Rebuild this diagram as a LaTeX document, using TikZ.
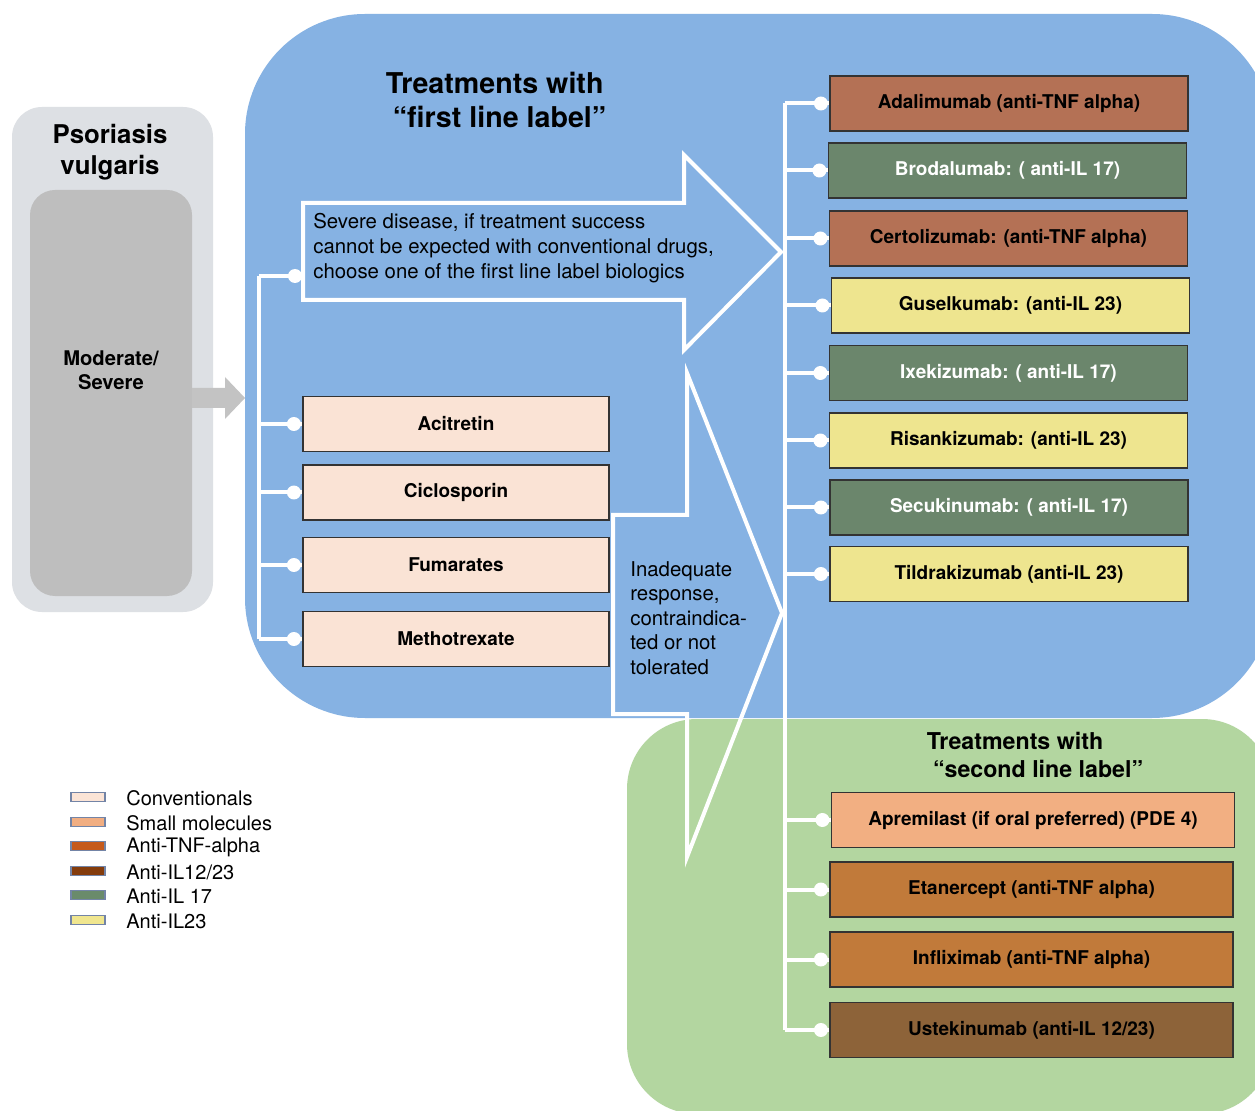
\documentclass[tikz,border=0pt]{standalone}
\usepackage{fontspec}
\setmainfont{TeX Gyre Heros}
\definecolor{bluebg}{HTML}{86B2E3}
\definecolor{greenbg}{HTML}{B3D6A0}
\definecolor{greyout}{HTML}{DDE0E4}
\definecolor{greyin}{HTML}{BEBEBE}
\definecolor{greyarrow}{HTML}{C3C3C3}
\definecolor{convfill}{HTML}{FAE3D5}
\definecolor{tnfA}{HTML}{B47155}
\definecolor{ilseventeen}{HTML}{6B866C}
\definecolor{iltwentythree}{HTML}{EEE58F}
\definecolor{pdefill}{HTML}{F2AF82}
\definecolor{tnfB}{HTML}{C17A3A}
\definecolor{iltwelve}{HTML}{8D6339}
\definecolor{lgconv}{HTML}{FBE4D6}
\definecolor{lgsmall}{HTML}{F1AE82}
\definecolor{lgtnf}{HTML}{C55A1C}
\definecolor{lgiltwelve}{HTML}{843C0C}
\definecolor{lgilseventeen}{HTML}{6A8B6B}
\definecolor{lgiltwentythree}{HTML}{F0E68F}
\definecolor{lgborder}{HTML}{7384A6}
\begin{document}
\begin{tikzpicture}[x=0.02cm,y=-0.02cm,
  drugbox/.style={draw=black!80, line width=0.7pt, minimum width=7.16cm, minimum height=1.1cm,
    inner sep=0pt, font=\bfseries\fontsize{10.8}{13}\selectfont},
  convbox/.style={drugbox, fill=convfill, minimum width=6.12cm},
  secbox/.style={drugbox, minimum width=8.06cm},
  wire/.style={white, line width=0.08cm},
  bigarrow/.style={white, line width=0.08cm, line join=miter},
  knob/.style={white},
  plaintext/.style={inner sep=0pt, align=left, font=\fontsize{11.6}{14.2}\selectfont},
  swatch/.style={draw=lgborder, line width=0.6pt, minimum width=0.68cm, minimum height=0.18cm, inner sep=0pt},
  legendtext/.style={inner sep=0pt, anchor=west, font=\fontsize{11.4}{13}\selectfont}
]
\useasboundingbox (0,0) rectangle (1255,1111);
\fill[white] (0,0) rectangle (1255,1111);

% backgrounds
\begin{scope}
  \clip (0,0) rectangle (1255,1111);
  \fill[bluebg, rounded corners=2.4cm] (245,14) rectangle (1272,718);
  \fill[greenbg, rounded corners=1.4cm] (627,719) rectangle (1272,1114);
\end{scope}

% left grey panel
\fill[greyout, rounded corners=0.6cm] (12,107) rectangle (213,612);
\fill[greyin, rounded corners=0.5cm] (30,190) rectangle (192,596);
\node[inner sep=0pt, align=center, font=\bfseries\fontsize{14.7}{17.6}\selectfont] (psor) at (110,152) {Psoriasis\\vulgaris};
\node[inner sep=0pt, align=center, font=\bfseries\fontsize{11.5}{13.6}\selectfont] (modsev) at (111,370) {Moderate/\\Severe};
\fill[greyarrow] (192,388) -- (225,388) -- (225,377) -- (245,398) -- (225,419) -- (225,408) -- (192,408) -- cycle;

% titles
\node[inner sep=0pt, align=left, font=\bfseries\fontsize{16.3}{19.8}\selectfont] (title1) at (496,100) {Treatments with\\\hspace*{4pt}“first line label”};
\node[inner sep=0pt, align=left, font=\bfseries\fontsize{13.2}{15.9}\selectfont] (title2) at (1035,755) {Treatments with\\\hspace*{3.5pt}“second line label”};

% big arrows
\draw[bigarrow] (303,203) -- (684,203) -- (684,155) -- (781,252) -- (684,350) -- (684,300) -- (303,300) -- cycle;
\node[plaintext, anchor=west] (arrowtext1) at (313,248) {Severe disease, if treatment success\\cannot be expected with conventional drugs,\\choose one of the first line label biologics};
\coordinate (arrowin) at (303,276);

\draw[bigarrow] (687,373) -- (782,613) -- (687,857) -- (687,714) -- (613,714) -- (613,515) -- (687,515) -- cycle;
\node[plaintext, anchor=west, font=\fontsize{11.6}{13.9}\selectfont] (arrowtext2) at (630,618) {Inadequate\\response,\\contraindica-\\ted or not\\tolerated};

% conventional drugs
\node[convbox] (Acitretin) at (456,424) {Acitretin};
\node[convbox] (Ciclosporin) at (456,492.5) {Ciclosporin};
\node[convbox] (Fumarates) at (456,565) {Fumarates};
\node[convbox] (Methotrexate) at (456,639) {Methotrexate};

% first line biologics
\node[drugbox, fill=tnfA] (Adalimumab) at (1009,103.5) {Adalimumab (anti-TNF alpha)};
\node[drugbox, fill=ilseventeen, text=white] (Brodalumab) at (1007.5,170.5) {Brodalumab: ( anti-IL 17)};
\node[drugbox, fill=tnfA] (Certolizumab) at (1008.5,238.5) {Certolizumab: (anti-TNF alpha)};
\node[drugbox, fill=iltwentythree] (Guselkumab) at (1010.5,305.5) {Guselkumab: (anti-IL 23)};
\node[drugbox, fill=ilseventeen, text=white] (Ixekizumab) at (1008.5,373) {Ixekizumab: ( anti-IL 17)};
\node[drugbox, fill=iltwentythree] (Risankizumab) at (1008.5,440.5) {Risankizumab: (anti-IL 23)};
\node[drugbox, fill=ilseventeen, text=white] (Secukinumab) at (1009,507.5) {Secukinumab: ( anti-IL 17)};
\node[drugbox, fill=iltwentythree] (Tildrakizumab) at (1009,574) {Tildrakizumab (anti-IL 23)};

% second line
\node[secbox, fill=pdefill] (Apremilast) at (1033,820) {Apremilast (if oral preferred) (PDE 4)};
\node[secbox, fill=tnfB] (Etanercept) at (1031.5,889.5) {Etanercept (anti-TNF alpha)};
\node[secbox, fill=tnfB] (Infliximab) at (1031.5,959.5) {Infliximab (anti-TNF alpha)};
\node[secbox, fill=iltwelve] (Ustekinumab) at (1031.5,1030) {Ustekinumab (anti-IL 12/23)};

% left bracket
\coordinate (lspine) at (259,0);
\draw[wire] (arrowin -| lspine) -- (Methotrexate.west -| lspine);
\draw[wire] (arrowin -| lspine) -- (arrowin);
\fill[knob] ([xshift=-0.16cm]arrowin) circle (0.14cm);
\foreach \n in {Acitretin,Ciclosporin,Fumarates,Methotrexate}{
  \draw[wire] (\n.west -| lspine) -- (\n.west);
  \fill[knob] ([xshift=-0.17cm]\n.west) circle (0.14cm);
}

% right bracket
\coordinate (rspine) at (785,0);
\draw[wire] (Adalimumab.west -| rspine) -- (Ustekinumab.west -| rspine);
\foreach \n in {Adalimumab,Brodalumab,Certolizumab,Guselkumab,Ixekizumab,Risankizumab,Secukinumab,Tildrakizumab,Apremilast,Etanercept,Infliximab,Ustekinumab}{
  \draw[wire] (\n.west -| rspine) -- (\n.west);
  \fill[knob] ([xshift=-0.17cm]\n.west) circle (0.14cm);
}

% legend
\foreach \c/\t/\y [count=\i] in {lgconv/Conventionals/797, lgsmall/Small molecules/822, lgtnf/Anti-TNF-alpha/846, lgiltwelve/Anti-IL12\slash 23/871, lgilseventeen/Anti-IL 17/895, lgiltwentythree/Anti-IL23/920}{
  \node[swatch, fill=\c] (sw\i) at (88,\y) {};
  \node[legendtext] (lg\i) at (126,\y+1) {\t};
}
\end{tikzpicture}
\end{document}
